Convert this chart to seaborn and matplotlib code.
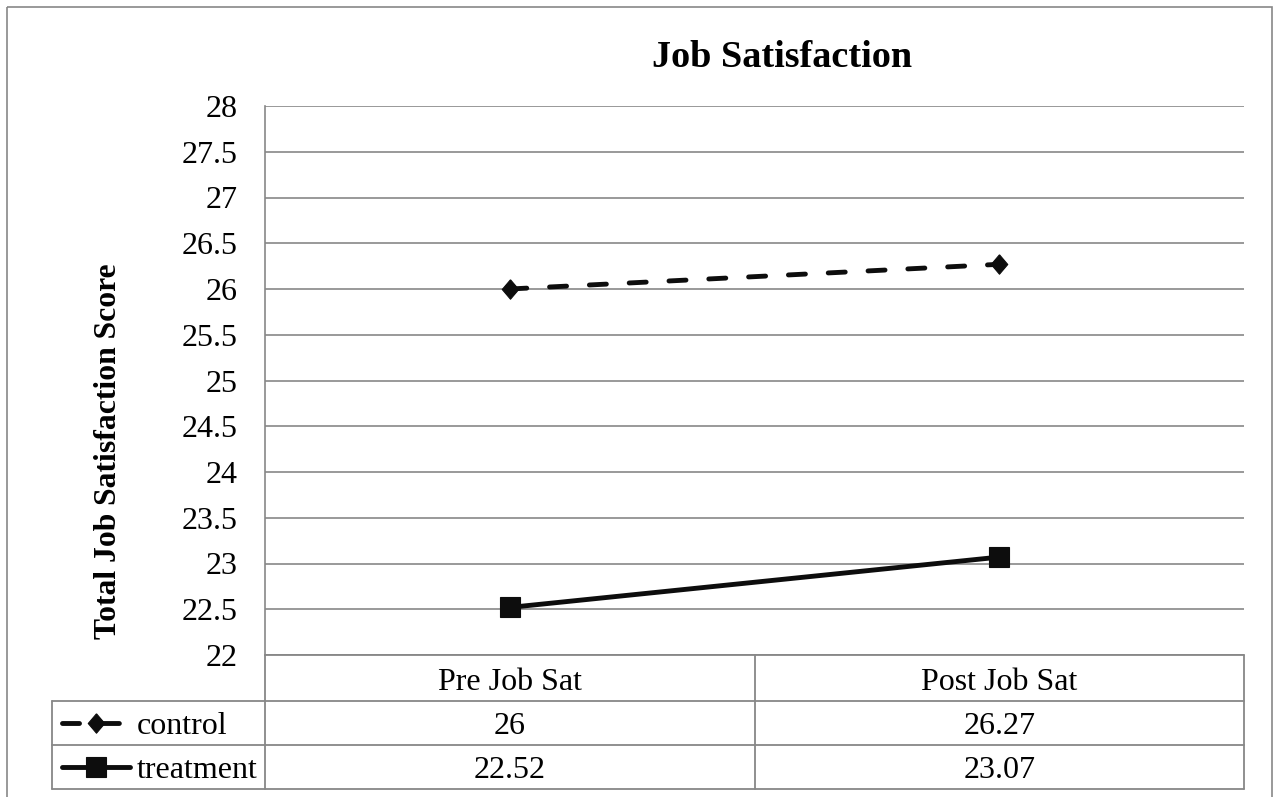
import numpy as np
import pandas as pd
import matplotlib
matplotlib.use("Agg")
import matplotlib.pyplot as plt
from matplotlib.patches import Rectangle
import seaborn as sns

# ---- data -------------------------------------------------------------
title = "Job Satisfaction"
y_label = "Total Job Satisfaction Score"
categories = ["Pre Job Sat", "Post Job Sat"]
groups = ["control", "treatment"]
control_scores = [26, 26.27]
treatment_scores = [22.52, 23.07]
y_ticks = [22, 22.5, 23, 23.5, 24, 24.5, 25, 25.5, 26, 26.5, 27, 27.5, 28]

scores = {"control": control_scores, "treatment": treatment_scores}
df = pd.DataFrame(
    [(g, i, c, v) for g in groups for i, (c, v) in enumerate(zip(categories, scores[g]))],
    columns=["group", "pos", "period", "score"],
)

# ---- style ------------------------------------------------------------
sns.set_theme(style="white")
plt.rcParams["font.family"] = ["Liberation Serif", "DejaVu Serif"]
INK = "#0d0d0d"
GRID = "#878787"
FS = 23
LW = 3.5

diamond = [(0, 1), (0.85, 0), (0, -1), (-0.85, 0), (0, 1)]
line_styles = {
    "control": dict(marker=diamond, ms=14, linestyle=(0, (3.5, 4.7)), cap="round"),
    "treatment": dict(marker="s", ms=14.2, linestyle="-", cap="butt"),
}

# ---- layout (pixels) --------------------------------------------------
W, H = 1273, 797
PL, PR, PT, PB = 265, 1244, 106, 655       # plot area
TL = 52                                   # table left edge (series rows)
ROW_BOTTOMS = [701, 745, 789]             # header, control, treatment rows


def fx(px):
    return px / W


def fy(py):
    return 1 - py / H


fig = plt.figure(figsize=(W / 100, H / 100), dpi=100)
ax = fig.add_axes([fx(PL), fy(PB), fx(PR) - fx(PL), fy(PT) - fy(PB)])

for g in groups:
    st = line_styles[g]
    sns.lineplot(
        data=df[df["group"] == g], x="pos", y="score", ax=ax,
        color=INK, lw=LW, marker=st["marker"], ms=st["ms"],
        markeredgecolor=INK, markerfacecolor=INK, markeredgewidth=0.8,
        linestyle=st["linestyle"], dash_capstyle=st["cap"],
        legend=False, errorbar=None, zorder=3,
    )

ax.set_xlim(-0.5, len(categories) - 0.5)
ax.set_ylim(y_ticks[0], y_ticks[-1])
ax.set_yticks(y_ticks)
ax.set_yticklabels([f"{v:g}" for v in y_ticks])
ax.set_xticks([])
ax.set_xlabel("")
ax.set_ylabel("")
ax.tick_params(axis="y", length=0, pad=20, labelsize=FS, labelcolor="black")
ax.grid(axis="y", color=GRID, lw=1.2)
ax.set_axisbelow(True)
for s in ["top", "right", "bottom"]:
    ax.spines[s].set_visible(False)
ax.spines["left"].set_color(GRID)
ax.spines["left"].set_linewidth(1.2)
ax.set_facecolor("none")

# ---- data table below the plot ----------------------------------------
tab = fig.add_axes([0, 0, 1, 1], zorder=-1)
tab.set_xlim(0, W)
tab.set_ylim(H, 0)
tab.axis("off")

TLW = 1.3
col_w = (PR - PL) / len(categories)
col_edges = [PL + i * col_w for i in range(len(categories) + 1)]

# outer chart border
tab.add_patch(Rectangle((7, 7), 1265, 820, fill=False, ec=GRID, lw=1.2))

# horizontal rules
tab.plot([PL, PR], [PB, PB], color=GRID, lw=TLW)
for yb in ROW_BOTTOMS:
    tab.plot([TL, PR], [yb, yb], color=GRID, lw=TLW)
# vertical rules
tab.plot([PL, PL], [PB, ROW_BOTTOMS[-1]], color=GRID, lw=TLW)
for xe in col_edges[1:]:
    tab.plot([xe, xe], [PB, ROW_BOTTOMS[-1]], color=GRID, lw=TLW)
tab.plot([TL, TL], [ROW_BOTTOMS[0], ROW_BOTTOMS[-1]], color=GRID, lw=TLW)

# header row: category names
for i, c in enumerate(categories):
    tab.text((col_edges[i] + col_edges[i + 1]) / 2, ROW_BOTTOMS[0] - 11, c,
             ha="center", va="baseline", fontsize=FS, color="black")

# series rows: legend key, name and values
row_tops = ROW_BOTTOMS[:-1]
for r, g in enumerate(groups):
    top, bot = row_tops[r], ROW_BOTTOMS[r + 1]
    yc = (top + bot) / 2
    st = line_styles[g]
    tab.plot([62, 130], [yc, yc], color=INK, lw=LW, linestyle=st["linestyle"],
             dash_capstyle=st["cap"])
    tab.plot([96], [yc], color=INK, marker=st["marker"], ms=st["ms"],
             markeredgecolor=INK, markeredgewidth=0.8, linestyle="none")
    tab.text(137, bot - 11, g, ha="left", va="baseline", fontsize=FS, color="black")
    for i, v in enumerate(scores[g]):
        tab.text((col_edges[i] + col_edges[i + 1]) / 2, bot - 11, f"{v:g}",
                 ha="center", va="baseline", fontsize=FS, color="black")

# ---- titles -----------------------------------------------------------
fig.text(fx(782), fy(67), title, ha="center", va="baseline",
         fontsize=27.5, fontweight="bold", color="black")
fig.text(fx(109), fy(451), y_label, ha="center", va="center", rotation=90,
         fontsize=22.8, fontweight="bold", color="black")

fig.savefig("out.png", dpi=100, facecolor="white")
